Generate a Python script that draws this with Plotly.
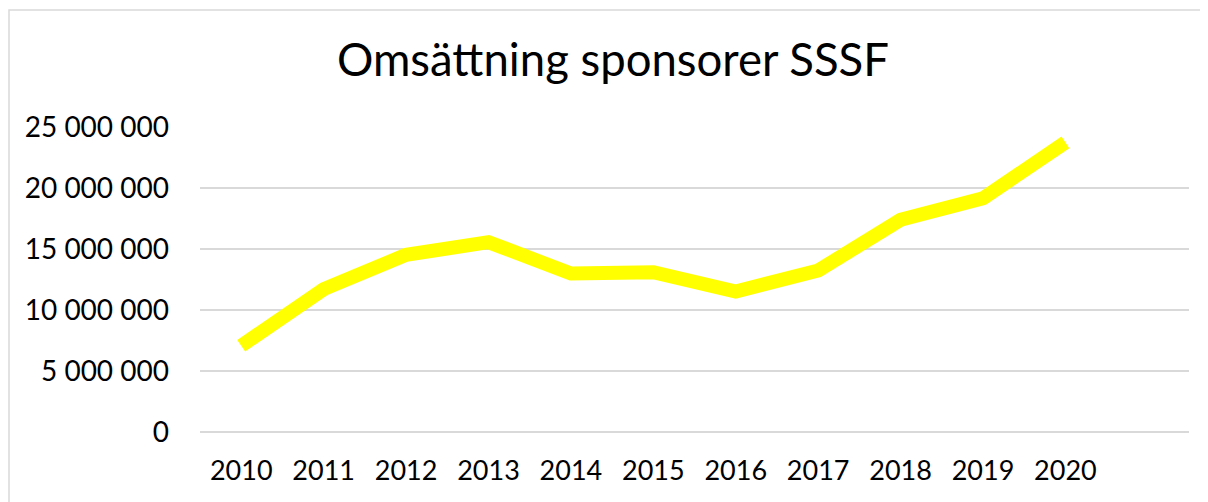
import plotly.graph_objects as go

years = [2010, 2011, 2012, 2013, 2014, 2015, 2016, 2017, 2018, 2019, 2020]
omsattning = [7070000, 11710000, 14520000, 15560000, 12990000, 13100000,
              11520000, 13240000, 17390000, 19160000, 23740000]
y_ticks = [0, 5000000, 10000000, 15000000, 20000000, 25000000]
title_text = "Omsättning sponsorer SSSF"

FONT = "Lato"

fig = go.Figure()
fig.add_trace(go.Scatter(
    x=years, y=omsattning, mode="lines",
    line=dict(color="#FFFF00", width=14),
    hoverinfo="x+y", showlegend=False,
))

W, H = 1200, 494
fig.update_layout(
    width=W, height=H,
    margin=dict(l=192, r=19, t=119, b=70),
    paper_bgcolor="white", plot_bgcolor="white",
    separators=", ",
    font=dict(family=FONT, color="#000000", size=28),
    title=dict(text=title_text, font=dict(family=FONT, size=45.5, color="#000000"),
               x=605 / W, xanchor="center", xref="container",
               y=1 - 52 / H, yanchor="middle", yref="container"),
    xaxis=dict(range=[2009.5, 2021.5], tickvals=years, ticktext=[str(y) for y in years],
               showgrid=False, zeroline=False, showline=False, ticks="",
               ticklabelstandoff=20, tickfont=dict(size=27, family=FONT)),
    yaxis=dict(range=[0, 25000000], tickvals=y_ticks, tickformat=",d",
               showgrid=True, gridcolor="#d9d9d9", gridwidth=1.5,
               zeroline=True, zerolinecolor="#d9d9d9", zerolinewidth=1.5,
               showline=False, ticks="", ticklabelstandoff=30,
               tickfont=dict(size=28, family=FONT)),
    shapes=[dict(type="rect", xref="paper", yref="paper",
                 x0=(9 - 200) / 989, x1=1.1, y0=-0.4, y1=(432 - 10) / 305,
                 line=dict(color="#d9d9d9", width=1.5), fillcolor="rgba(0,0,0,0)",
                 layer="below")],
)

fig.write_html("out.html")
